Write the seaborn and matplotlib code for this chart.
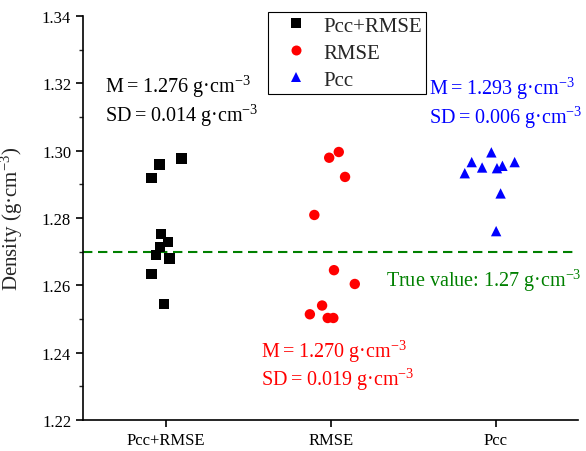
"""
Density scatter for the three fitting criteria (Pcc+RMSE, RMSE, Pcc)
"""
import numpy as np
import pandas as pd
import matplotlib
matplotlib.use("Agg")
import matplotlib.pyplot as plt
from matplotlib.lines import Line2D
from matplotlib.ticker import MultipleLocator, FormatStrFormatter
import seaborn as sns

# categories
groups = ["Pcc+RMSE", "RMSE", "Pcc"]

# densities (g/cm3) and the horizontal scatter of each point
pcc_rmse_density = [1.2977, 1.2959, 1.2919, 1.2752, 1.2728, 1.2714, 1.2690, 1.2680, 1.2633, 1.2545]
pcc_rmse_jitter = [0.096, -0.036, -0.085, -0.029, 0.016, -0.034, -0.056, 0.025, -0.085, -0.011]

rmse_density = [1.2996, 1.2979, 1.2922, 1.2809, 1.2645, 1.2604, 1.2540, 1.2514, 1.2503, 1.2503]
rmse_jitter = [0.049, -0.009, 0.087, -0.099, 0.020, 0.146, -0.052, -0.126, -0.018, 0.016]

pcc_density = [1.2995, 1.2966, 1.2966, 1.2950, 1.2955, 1.2948, 1.2933, 1.2873, 1.2761]
pcc_jitter = [-0.027, -0.146, 0.114, -0.083, 0.040, 0.007, -0.188, 0.029, 0.002]

group_mean = [1.276, 1.270, 1.293]
group_sd = [0.014, 0.019, 0.006]
true_value = 1.27

colors = {"Pcc+RMSE": "black", "RMSE": "#ff0000", "Pcc": "#0000ff"}
markers = {"Pcc+RMSE": "s", "RMSE": "o", "Pcc": "^"}

# build the long table
frames = []
for i, (g, dens, jit) in enumerate(zip(groups,
                                       [pcc_rmse_density, rmse_density, pcc_density],
                                       [pcc_rmse_jitter, rmse_jitter, pcc_jitter])):
    frames.append(pd.DataFrame({"group": g, "density": dens,
                                "x": i + np.array(jit)}))
df = pd.concat(frames, ignore_index=True)

sns.set_style("ticks")
plt.rcParams["font.family"] = ["Liberation Serif", "DejaVu Serif"]
plt.rcParams["mathtext.fontset"] = "custom"
plt.rcParams["mathtext.rm"] = "Liberation Serif"
plt.rcParams["mathtext.default"] = "regular"

fig = plt.figure(figsize=(5.86, 4.52), dpi=100)
ax = fig.add_axes([0.1416, 0.0686, 0.8454, 0.8938])

sns.scatterplot(data=df, x="x", y="density", hue="group", style="group",
                palette=colors, markers=markers, s=56, linewidth=0,
                legend=False, ax=ax, zorder=3)

# true value line
ax.axhline(true_value, color="#008000", lw=1.5, dashes=(4.5, 2.7), zorder=2)

ax.set_xlim(-0.5, 2.5)
ax.set_ylim(1.22, 1.34)
ax.set_xticks(range(len(groups)))
ax.set_xticklabels(groups)
ax.yaxis.set_major_locator(MultipleLocator(0.02))
ax.yaxis.set_minor_locator(MultipleLocator(0.01))
ax.yaxis.set_major_formatter(FormatStrFormatter("%.2f"))
ax.set_xlabel("")
ax.set_ylabel("Density (g·cm$^{-3}$)", fontsize=15)
ax.yaxis.set_label_coords(-0.117, 0.5)

for side in ["top", "right"]:
    ax.spines[side].set_visible(False)
for side in ["left", "bottom"]:
    ax.spines[side].set_linewidth(1.2)
    ax.spines[side].set_color("black")
ax.tick_params(axis="both", which="major", direction="out", length=5, width=1.2,
               labelsize=12, colors="black")
ax.tick_params(axis="y", which="minor", direction="out", length=3, width=1.0)
ax.tick_params(axis="x", which="minor", bottom=False)

# annotations: mean and SD per group
ts = "\u2009"
text_pos = [(-0.364, 1.3174, 1.3088), (0.576, 1.2387, 1.2304), (1.595, 1.3168, 1.3082)]
for g, m, sd, (tx, ym, ysd) in zip(groups, group_mean, group_sd, text_pos):
    ax.text(tx, ym, f"M{ts}={ts}{m:.3f} g·cm$^{{-3}}$", color=colors[g], fontsize=14.5,
            va="baseline", ha="left")
    ax.text(tx, ysd, f"SD{ts}={ts}{sd:.3f} g·cm$^{{-3}}$", color=colors[g], fontsize=14.5,
            va="baseline", ha="left")

ax.text(1.333, 1.2598, f"True value: {true_value:.2f} g·cm$^{{-3}}$", color="#008000",
        fontsize=14.5, va="baseline", ha="left")

# legend
handles = [Line2D([], [], ls="none", marker=markers[g], color=colors[g],
                  markersize=7.2, markeredgewidth=0) for g in groups]
leg = ax.legend(handles, groups, loc="upper left",
                bbox_to_anchor=(268 / 586, 1 - 13 / 452),
                bbox_transform=fig.transFigure, fontsize=15, frameon=True,
                fancybox=False, framealpha=1, edgecolor="black",
                borderaxespad=0, borderpad=0.2, handlelength=2.25,
                handletextpad=0.2, labelspacing=0.35)
leg.get_frame().set_linewidth(0.8)

fig.savefig("out.png", dpi=100)
